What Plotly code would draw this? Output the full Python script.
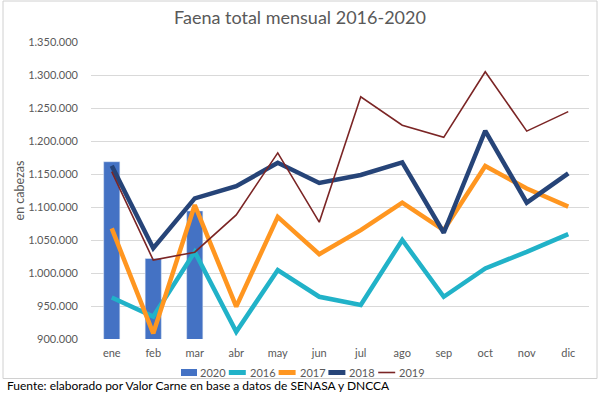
import plotly.graph_objects as go

months = ["ene", "feb", "mar", "abr", "may", "jun", "jul", "ago", "sep", "oct", "nov", "dic"]
v2020 = [1168600, 1022000, 1094000]
v2016 = [963000, 934000, 1032000, 911000, 1004500, 964000, 951500, 1050000, 964000, 1007000, 1032000, 1059000]
v2017 = [1067500, 908500, 1103000, 949000, 1085000, 1028500, 1065000, 1106500, 1065000, 1162000, 1128000, 1100500]
v2018 = [1162500, 1037500, 1113000, 1131500, 1167000, 1136500, 1148500, 1167500, 1061000, 1215500, 1106500, 1151000]
v2019 = [1153500, 1019500, 1031500, 1088000, 1182000, 1077000, 1267000, 1224000, 1205500, 1305000, 1215000, 1244500]
yticks = [900000, 950000, 1000000, 1050000, 1100000, 1150000, 1200000, 1250000, 1300000, 1350000]
ytext = [f"{v:,}".replace(",", ".") for v in yticks]

series_names = ["2020", "2016", "2017", "2018", "2019"]
series_colors = ["#4472C4", "#21B2C8", "#FF9620", "#264478", "#7B2525"]

W, H = 600, 393
L, R, T, B = 91, 11, 42, 54
PW, PH = W - L - R, H - T - B


def px(x):
    return (x - L) / PW


def py(y):
    return (H - B - y) / PH


fig = go.Figure()
fig.add_trace(go.Bar(x=months[:3], y=v2020, name="2020", marker_color=series_colors[0], width=0.39))
fig.add_trace(go.Scatter(x=months, y=v2016, name="2016", mode="lines", line=dict(color=series_colors[1], width=4.5)))
fig.add_trace(go.Scatter(x=months, y=v2017, name="2017", mode="lines", line=dict(color=series_colors[2], width=4.5)))
fig.add_trace(go.Scatter(x=months, y=v2018, name="2018", mode="lines", line=dict(color=series_colors[3], width=4.5)))
fig.add_trace(go.Scatter(x=months, y=v2019, name="2019", mode="lines", line=dict(color=series_colors[4], width=1.6)))

fig.update_layout(
    width=W, height=H,
    margin=dict(l=L, r=R, t=T, b=B, autoexpand=False),
    paper_bgcolor="white", plot_bgcolor="white",
    font=dict(family="Lato, Open Sans, sans-serif", color="#595959", size=11),
    title=dict(text="Faena total mensual 2016-2020", x=0.5, xanchor="center",
               y=1 - 18 / H, yanchor="middle", yref="container",
               font=dict(size=18, color="#595959")),
    showlegend=False,
)
fig.update_xaxes(type="category", categoryorder="array", categoryarray=months, range=[-0.5, 11.5],
                 showgrid=False, showline=False, ticks="", automargin=False, ticklabelstandoff=6,
                 tickfont=dict(size=11, color="#595959"))
fig.update_yaxes(range=[900000, 1350000], tickvals=yticks, ticktext=ytext, showgrid=True,
                 gridcolor="#D9D9D9", gridwidth=1, zeroline=False, showline=False, ticks="",
                 ticklabelstandoff=12, automargin=False,
                 title=dict(text="en cabezas", font=dict(size=12.5, color="#595959"), standoff=0),
                 tickfont=dict(size=11, color="#595959"))

# custom compact legend (swatch + text), like the original
leg_y = 372.5
leg_text_x0 = 198
leg_step = 49.8
for i, (name, col) in enumerate(zip(series_names, series_colors)):
    tx = leg_text_x0 + i * leg_step
    if i == 0:
        fig.add_shape(type="rect", xref="paper", yref="paper",
                      x0=px(tx - 17), x1=px(tx - 1), y0=py(leg_y + 3.5), y1=py(leg_y - 3.5),
                      fillcolor=col, line=dict(width=0))
    else:
        lw = 1.6 if name == "2019" else 5
        fig.add_shape(type="line", xref="paper", yref="paper",
                      x0=px(tx - 19), x1=px(tx - 2), y0=py(leg_y), y1=py(leg_y),
                      line=dict(color=col, width=lw))
    fig.add_annotation(text=name, xref="paper", yref="paper", x=px(tx), y=py(leg_y),
                       xanchor="left", yanchor="middle", showarrow=False,
                       font=dict(size=11, color="#595959"))

fig.add_annotation(text="Fuente: elaborado por Valor Carne en base a datos de SENASA y DNCCA",
                   xref="paper", yref="paper", x=px(5), y=py(385.8),
                   xanchor="left", yanchor="middle", showarrow=False,
                   font=dict(size=12, color="#000000"))
fig.add_shape(type="rect", xref="paper", yref="paper", x0=px(3), x1=px(597),
              y0=py(378.5), y1=py(1), line=dict(color="#D0D0D0", width=1))
fig.write_html("out.html", config={"displayModeBar": False},
               post_script="document.body.style.margin='0';")
